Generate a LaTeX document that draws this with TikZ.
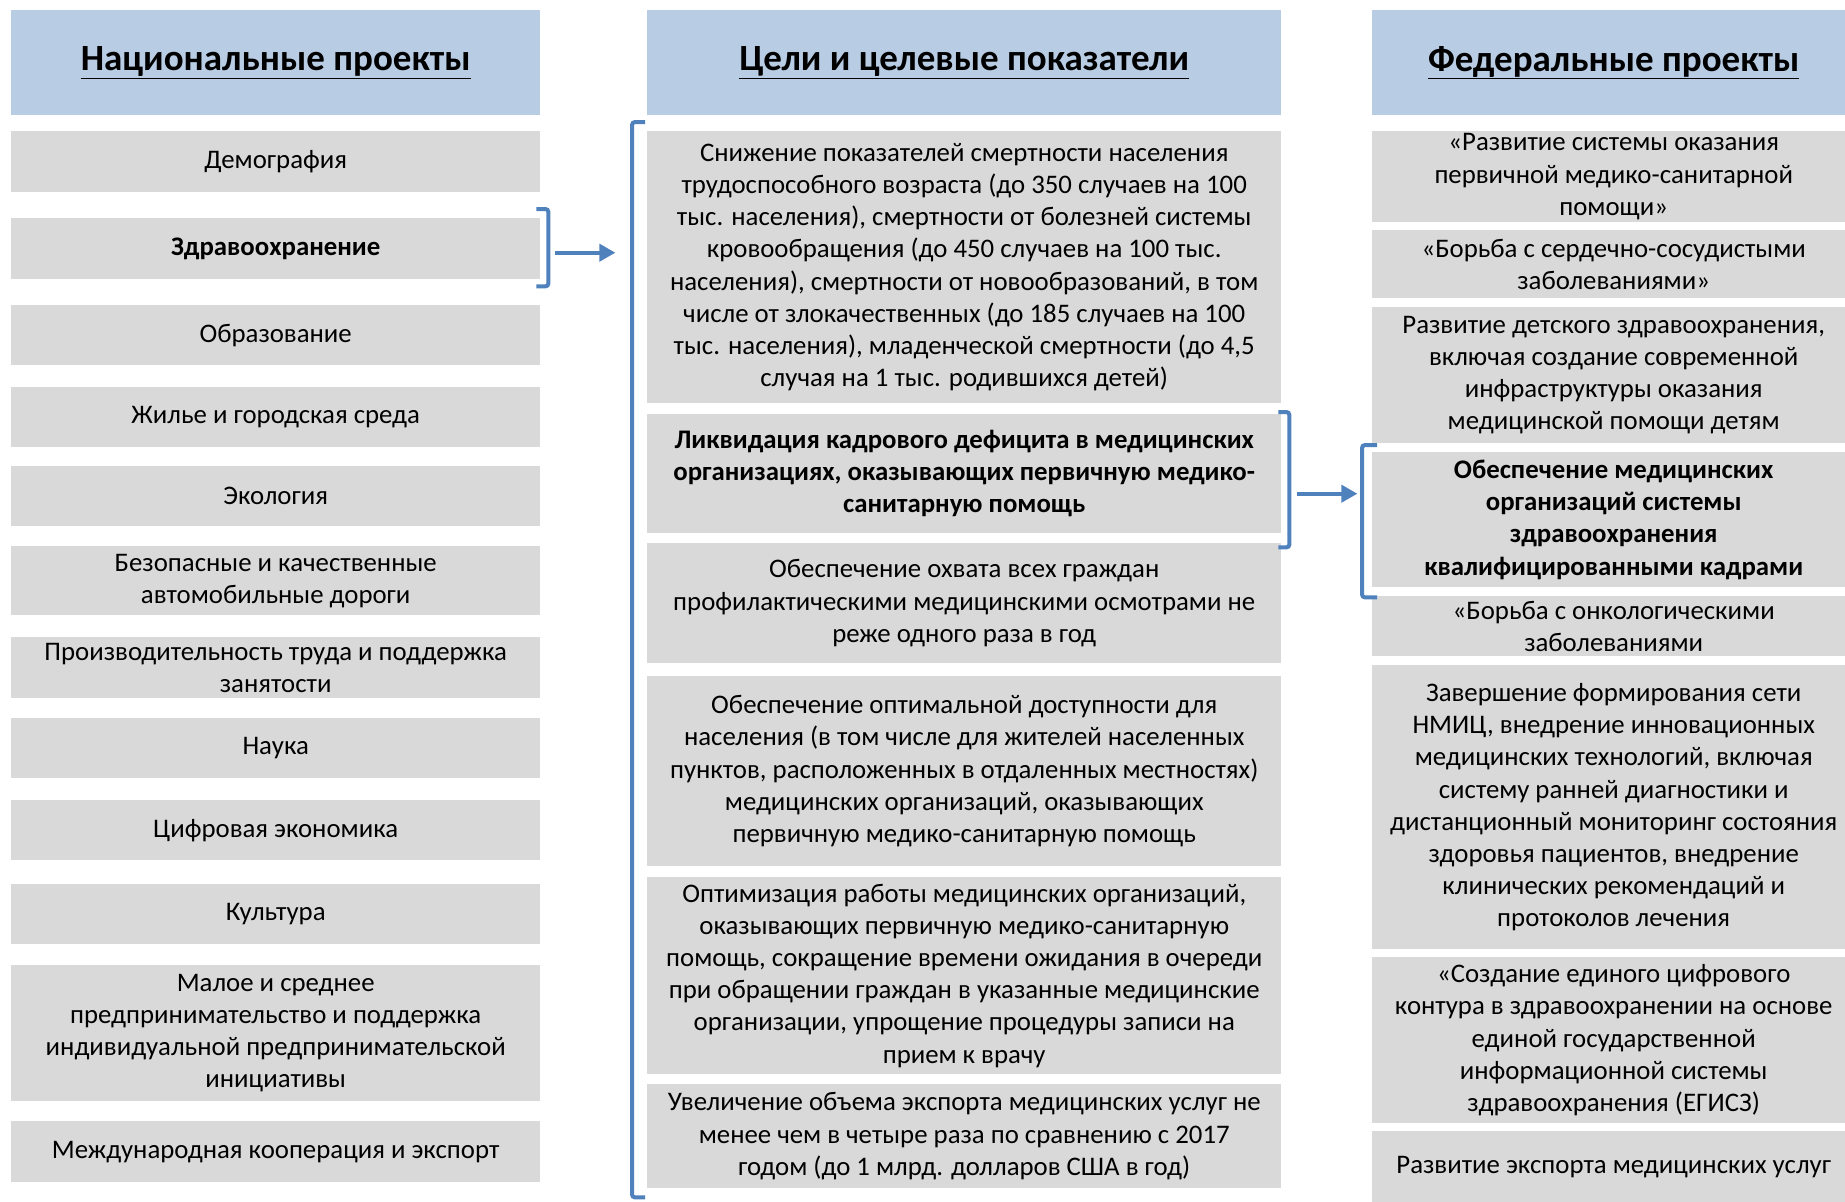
\documentclass[tikz,border=0pt]{standalone}
\usepackage{fontspec}
\setmainfont{Carlito}
\usepackage{xcolor}
\usepackage{tikz}
\usetikzlibrary{arrows.meta}
\definecolor{hdrblue}{RGB}{184,204,228}
\definecolor{cellgray}{RGB}{217,217,217}
\definecolor{brkblue}{RGB}{79,129,189}

\begin{document}
\begin{tikzpicture}[x=1pt,y=-1pt,
    cell/.style={fill=cellgray, anchor=north west, align=center, inner sep=0pt,
                 font=\fontsize{26.8}{32.2}\selectfont},
    head/.style={fill=hdrblue, anchor=north west, align=center, inner sep=0pt,
                 minimum height=105, font=\fontsize{37}{44}\selectfont\bfseries},
    brk/.style={brkblue, line width=4pt, rounded corners=3pt},
    arr/.style={brkblue, line width=4pt, -{Triangle[length=16pt,width=17pt]}}]

    \useasboundingbox (0,0) rectangle (1845,1202);

    % Headers
    \node[head, minimum width=529] (hnat) at (11,10) {\underline{Национальные проекты}};
    \node[head, minimum width=634] (hgoal) at (647,10) {\underline{Цели и целевые показатели}};
    \node[head, minimum width=483] (hfed) at (1372,10) {\underline{Федеральные проекты}};

    % National projects
    \node[cell, minimum width=529, minimum height=61] (demo) at (11,131) {Демография};
    \node[cell, minimum width=529, minimum height=61] (zdrav) at (11,218) {\textbf{Здравоохранение}};
    \node[cell, minimum width=529, minimum height=60] (obraz) at (11,305) {Образование};
    \node[cell, minimum width=529, minimum height=60] (zhil) at (11,387) {Жилье и городская среда};
    \node[cell, minimum width=529, minimum height=60] (ekol) at (11,466) {Экология};
    \node[cell, minimum width=529, minimum height=69] (dorog) at (11,546) {Безопасные и качественные\\автомобильные дороги};
    \node[cell, minimum width=529, minimum height=61] (trud) at (11,637) {Производительность труда и поддержка\\занятости};
    \node[cell, minimum width=529, minimum height=60] (nauka) at (11,718) {Наука};
    \node[cell, minimum width=529, minimum height=60] (cifr) at (11,800) {Цифровая экономика};
    \node[cell, minimum width=529, minimum height=60] (kult) at (11,884) {Культура};
    \node[cell, minimum width=529, minimum height=136] (msp) at (11,965) {Малое и среднее\\предпринимательство и поддержка\\индивидуальной предпринимательской\\инициативы};
    \node[cell, minimum width=529, minimum height=61] (mezh) at (11,1121) {Международная кооперация и экспорт};

    % Goals
    \node[cell, minimum width=634, minimum height=272] (g1) at (647,131) {Снижение показателей смертности населения\\трудоспособного возраста (до 350 случаев на 100\\тыс. населения), смертности от болезней системы\\кровообращения (до 450 случаев на 100 тыс.\\населения), смертности от новообразований, в том\\числе от злокачественных (до 185 случаев на 100\\тыс. населения), младенческой смертности (до 4,5\\случая на 1 тыс. родившихся детей)};
    \node[cell, minimum width=634, minimum height=119] (g2) at (647,414) {\textbf{Ликвидация кадрового дефицита в медицинских}\\\textbf{организациях, оказывающих первичную медико-}\\\textbf{санитарную помощь}};
    \node[cell, minimum width=634, minimum height=120] (g3) at (647,543) {Обеспечение охвата всех граждан\\профилактическими медицинскими осмотрами не\\реже одного раза в год};
    \node[cell, minimum width=634, minimum height=190] (g4) at (647,676) {Обеспечение оптимальной доступности для\\населения (в том числе для жителей населенных\\пунктов, расположенных в отдаленных местностях)\\медицинских организаций, оказывающих\\первичную медико-санитарную помощь};
    \node[cell, minimum width=634, minimum height=197] (g5) at (647,877) {Оптимизация работы медицинских организаций,\\оказывающих первичную медико-санитарную\\помощь, сокращение времени ожидания в очереди\\при обращении граждан в указанные медицинские\\организации, упрощение процедуры записи на\\прием к врачу};
    \node[cell, minimum width=634, minimum height=104] (g6) at (647,1084) {Увеличение объема экспорта медицинских услуг не\\менее чем в четыре раза по сравнению с 2017\\годом (до 1 млрд. долларов США в год)};

    % Federal projects
    \node[cell, minimum width=483, minimum height=91] (f1) at (1372,131) {«Развитие системы оказания\\первичной медико-санитарной\\помощи»};
    \node[cell, minimum width=483, minimum height=68] (f2) at (1372,230) {«Борьба с сердечно-сосудистыми\\заболеваниями»};
    \node[cell, minimum width=483, minimum height=136] (f3) at (1372,307) {Развитие детского здравоохранения,\\включая создание современной\\инфраструктуры оказания\\медицинской помощи детям};
    \node[cell, minimum width=483, minimum height=135] (f4) at (1372,452) {\textbf{Обеспечение медицинских}\\\textbf{организаций системы}\\\textbf{здравоохранения}\\\textbf{квалифицированными кадрами}};
    \node[cell, minimum width=483, minimum height=60] (f5) at (1372,596) {«Борьба с онкологическими\\заболеваниями};
    \node[cell, minimum width=483, minimum height=284] (f6) at (1372,665) {Завершение формирования сети\\НМИЦ, внедрение инновационных\\медицинских технологий, включая\\систему ранней диагностики и\\дистанционный мониторинг состояния\\здоровья пациентов, внедрение\\клинических рекомендаций и\\протоколов лечения};
    \node[cell, minimum width=483, minimum height=166] (f7) at (1372,957) {«Создание единого цифрового\\контура в здравоохранении на основе\\единой государственной\\информационной системы\\здравоохранения (ЕГИСЗ)};
    \node[cell, minimum width=483, minimum height=71] (f8) at (1372,1131) {Развитие экспорта медицинских услуг};

    % Brackets
    \draw[brk] ([xshift=-4pt,yshift=9pt]zdrav.north east) -| ([xshift=8pt,yshift=-7pt]zdrav.south east) -- ([xshift=-4pt,yshift=-7pt]zdrav.south east);
    \draw[brk] ([xshift=-2pt,yshift=9pt]g1.north west) -| ([xshift=-15pt,yshift=-9pt]g6.south west) -- ([xshift=-2pt,yshift=-9pt]g6.south west);
    \draw[brk] ([xshift=-3pt,yshift=2pt]g2.north east) -| ([xshift=8pt,yshift=-14pt]g2.south east) -- ([xshift=-3pt,yshift=-14pt]g2.south east);
    \draw[brk] ([xshift=5pt,yshift=7pt]f4.north west) -| ([xshift=-10pt,yshift=-10pt]f4.south west) -- ([xshift=5pt,yshift=-10pt]f4.south west);

    % Arrows
    \draw[arr] ([xshift=15pt,yshift=-4pt]zdrav.east) -- ([xshift=75pt,yshift=-4pt]zdrav.east);
    \draw[arr] ([xshift=16pt,yshift=-20pt]g2.east) -- ([xshift=76pt,yshift=-20pt]g2.east);
\end{tikzpicture}
\end{document}
